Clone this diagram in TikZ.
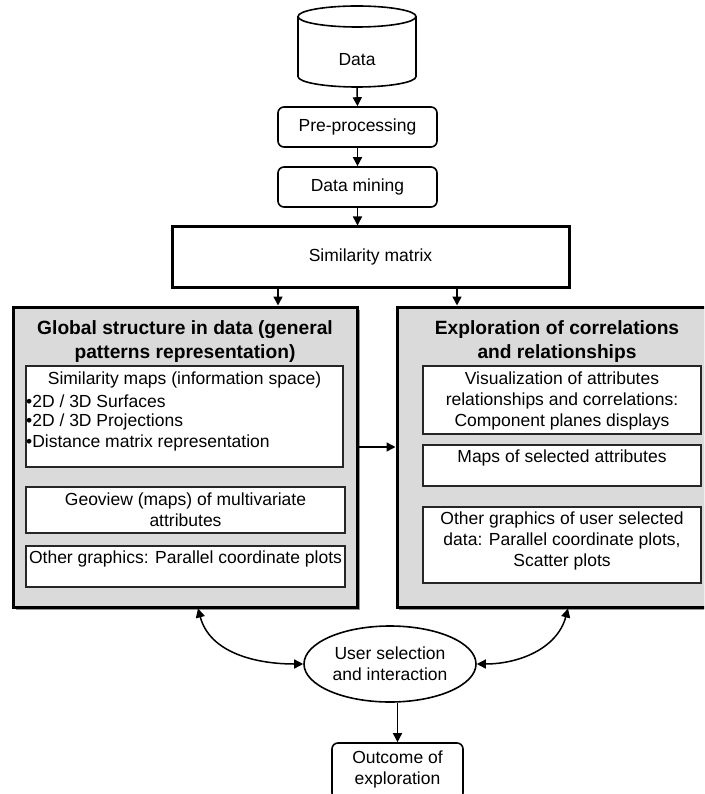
\documentclass[tikz,border=0pt]{standalone}
\usepackage{fontspec}
\setmainfont{Liberation Sans}
\usetikzlibrary{arrows.meta,shapes.geometric}
\definecolor{panelgrey}{RGB}{218,218,218}
\definecolor{shadowgrey}{RGB}{150,150,150}
\begin{document}
\begin{tikzpicture}[x=1pt,y=-1pt,
  txt/.style={font=\fontsize{17.5}{21}\selectfont, align=center, inner sep=0pt},
  ttl/.style={font=\fontsize{19.2}{23.5}\selectfont\bfseries, align=center, inner sep=0pt},
  stepbox/.style={draw, line width=1.6pt, rounded corners=6pt, inner sep=0pt, font=\fontsize{17.5}{21}\selectfont, align=center},
  subbox/.style={draw=black!85, line width=1.6pt, fill=white, inner sep=0pt},
  panel/.style={draw, line width=3pt, fill=panelgrey, inner sep=0pt},
  arr/.style={line width=1.5pt, -{Triangle[length=9pt,width=9pt]}},
  darr/.style={line width=1.5pt, {Triangle[length=9pt,width=9pt]}-{Triangle[length=9pt,width=9pt]}}]
\useasboundingbox (0,0) rectangle (704,794);
\clip (0,0) rectangle (704,794);
\fill[white] (0,0) rectangle (704,794);

% data store drawn as a cylinder
\node[minimum width=118pt, minimum height=81pt, inner sep=0pt] (data) at (357,46.5) {};
\draw[line width=1.6pt, fill=white] (298,16.5) -- (298,76.5) arc[start angle=180, end angle=360, x radius=59pt, y radius=10.5pt] -- (416,16.5);
\draw[line width=1.6pt] (357,16.5) ellipse[x radius=59pt, y radius=10.5pt];
\node[txt] at (357,60) {Data};

% processing chain
\node[stepbox, minimum width=159pt, minimum height=40pt] (pre) at (357.5,127) {Pre-processing};
\node[stepbox, minimum width=159pt, minimum height=40pt] (mining) at (357.5,187) {Data mining};
\node[draw, line width=3pt, minimum width=397pt, minimum height=60pt, inner sep=0pt, txt] (simmat) at (370.5,257) {Similarity matrix};

\draw[arr] (data.south) -- (pre.north);
\draw[arr] (pre.south) -- (mining.north);
\draw[arr] (mining.south) -- (mining.south |- simmat.north);

% the two panels, each with a soft shadow
\fill[shadowgrey] (16,310) rectangle (360,610);
\fill[shadowgrey] (399,310) rectangle (720,610);
\node[panel, minimum width=344pt, minimum height=300pt] (leftbox) at (185,457) {};
\node[panel, minimum width=318pt, minimum height=300pt] (rightbox) at (556,457) {};

\draw[arr] ([xshift=-92.5pt]simmat.south) -- ([xshift=-92.5pt]simmat.south |- leftbox.north);
\draw[arr] ([xshift=86.5pt]simmat.south) -- ([xshift=86.5pt]simmat.south |- rightbox.north);

% left panel contents
\node[ttl] (lefttitle) at (185,341.5) {Global structure in data (general\\patterns representation)};
\node[subbox, minimum width=317pt, minimum height=101pt] (lb1) at (184.5,416.5) {};
\node[txt] at (184.5,380) {Similarity maps (information space)};
\node[txt, anchor=west] at (26.5,401) {\kern-0.5pt•2D / 3D Surfaces};
\node[txt, anchor=west] at (26.5,422) {\kern-0.5pt•2D / 3D Projections};
\node[txt, anchor=west] at (26.5,443) {\kern-0.5pt•Distance matrix representation};
\node[subbox, minimum width=319pt, minimum height=46pt] (lb2) at (185.5,510) {};
\node[txt] at (185.5,510) {Geoview (maps) of multivariate\\attributes};
\node[subbox, minimum width=319pt, minimum height=41pt] (lb3) at (185.5,566.5) {};
\node[txt] at (185.5,558.5) {Other graphics: Parallel coordinate plots};

% right panel contents
\node[ttl] (righttitle) at (557,341.5) {Exploration of correlations\\and relationships};
\node[subbox, minimum width=278pt, minimum height=68pt] (rb1) at (562,400) {};
\node[txt] at (562,401) {Visualization of attributes\\relationships and correlations:\\Component planes displays};
\node[subbox, minimum width=278pt, minimum height=41pt] (rb2) at (562,465.5) {};
\node[txt] at (562,458) {Maps of selected attributes};
\node[subbox, minimum width=278pt, minimum height=76pt] (rb3) at (562,545) {};
\node[txt] at (562,541) {Other graphics of user selected\\data: Parallel coordinate plots,\\Scatter plots};

\draw[arr] ([yshift=10pt]leftbox.east) -- ([yshift=10pt]leftbox.east -| rightbox.west);

% user interaction and outcome
\node[ellipse, draw, line width=1.6pt, minimum width=172pt, minimum height=76pt, inner sep=0pt, txt] (user) at (390,664) {User selection\\and interaction};
\node[stepbox, minimum width=131pt, minimum height=56pt] (outcome) at (397.5,771) {};
\node[txt] at (397.5,769) {Outcome of\\exploration};

\draw[darr] ([xshift=13pt]leftbox.south) to[out=-75, in=180] (user.west);
\draw[darr] ([xshift=12pt]rightbox.south) to[out=-105, in=0] (user.east);
\draw[arr] (user.south -| outcome.north) -- (outcome.north);
\end{tikzpicture}
\end{document}
